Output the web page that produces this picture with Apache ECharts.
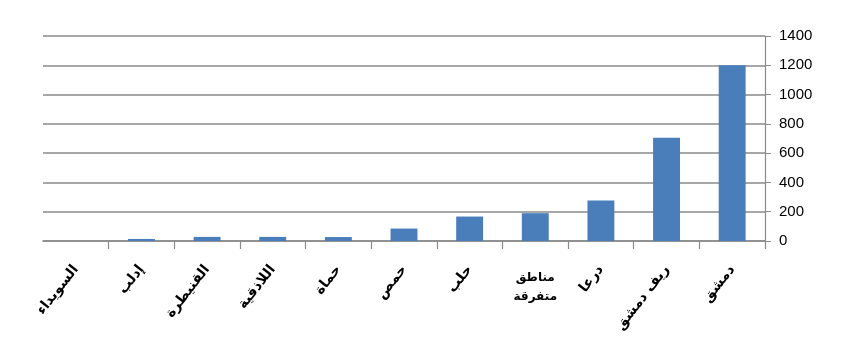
<!DOCTYPE html>
<html><head><meta charset="utf-8">
<script src="https://cdn.jsdelivr.net/npm/echarts@6/dist/echarts.min.js"></script>
<style>html,body{margin:0;padding:0;background:#fff}#c{width:860px;height:352px}</style>
</head><body><div id="c"></div>
<script>
const categories = ['السويداء','إدلب','القنيطرة','اللاذقية','حماة','حمص','حلب','مناطق\nمتفرقة','درعا','ريف دمشق','دمشق'];
const values = [0, 14, 28, 28, 27, 85, 167, 190, 277, 705, 1200];
const yTicks = [0, 200, 400, 600, 800, 1000, 1200, 1400];
const flatLabel = 'مناطق\nمتفرقة';

const chart = echarts.init(document.getElementById('c'));
chart.setOption({
  animation: false,
  grid: {left: 43, right: 95, top: 36, bottom: 111},
  xAxis: [{
    type: 'category', data: categories,
    axisLine: {lineStyle: {color: '#8a8a8a', width: 1.5}},
    axisTick: {show: true, length: 8, lineStyle: {color: '#8a8a8a', width: 1.2},
      interval: (i) => i > 0},
    axisLabel: {rotate: 52, margin: 26, color: '#000', fontWeight: 'bold', fontSize: 14,
      fontFamily: 'DejaVu Sans', interval: 0,
      formatter: v => v === flatLabel ? '' : v}
  }, {
    type: 'category', data: categories, position: 'bottom',
    axisLine: {show: false}, axisTick: {show: false},
    axisLabel: {rotate: 0, margin: 27, color: '#000', fontWeight: 'bold', fontSize: 12,
      lineHeight: 19, fontFamily: 'DejaVu Sans', interval: 0,
      formatter: v => v === flatLabel ? v : ''}
  }],
  yAxis: {
    type: 'value', position: 'right', min: 0, max: 1400, interval: 200,
    axisLine: {show: true, lineStyle: {color: '#8a8a8a', width: 1.2}},
    axisTick: {show: true, length: 6, lineStyle: {color: '#8a8a8a'}},
    splitLine: {lineStyle: {color: '#8a8a8a', width: 1.5}},
    axisLabel: {color: '#000', fontSize: 15, fontFamily: 'Liberation Sans', margin: 14,
      formatter: v => yTicks.includes(v) ? String(v) : ''}
  },
  series: [{
    type: 'bar', data: values, barWidth: '41%', xAxisIndex: 0,
    itemStyle: {color: '#4a7ebb'}
  }]
});
</script></body></html>
